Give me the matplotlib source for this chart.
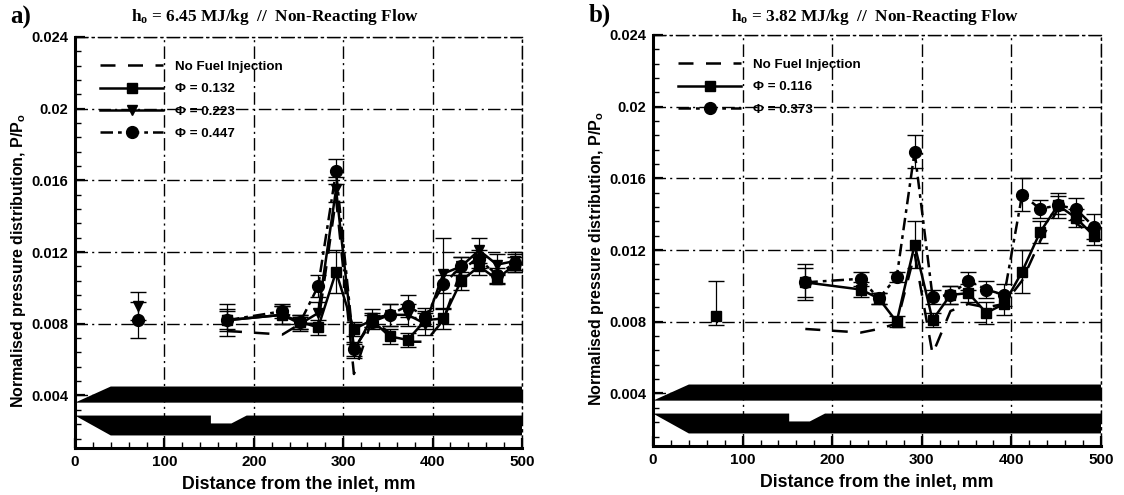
#!/usr/bin/env python3
"""Normalised pressure distribution along the duct, two enthalpy conditions"""

import matplotlib
matplotlib.use("Agg")
import matplotlib.pyplot as plt
from matplotlib.lines import Line2D
from matplotlib.ticker import MultipleLocator

plt.rcParams["font.family"] = ["Liberation Sans", "DejaVu Sans"]

# Streamwise stations, mm
x_iso = [70]
x_main = [170, 232, 252, 272, 292, 312, 332, 352, 372, 392, 412, 432, 452, 472, 492]

# Panel a
a_nofuel = [0.0076, 0.0074, 0.0080, 0.0080, 0.0150, 0.0052, 0.0082, 0.0075, 0.0070,
            0.0070, 0.0082, 0.0110, 0.0117, 0.0107, 0.0110]
a_p132 = [0.0082, 0.0085, 0.0081, 0.0078, 0.0109, 0.0077, 0.0082, 0.0073, 0.0071,
          0.0082, 0.0083, 0.0104, 0.0112, 0.0105, 0.0113]
a_p223 = [0.0082, 0.0085, 0.0080, 0.0086, 0.0155, 0.0065, 0.0083, 0.0085, 0.0085,
          0.0080, 0.0108, 0.0112, 0.0121, 0.0113, 0.0115]
a_p447 = [0.0082, 0.0087, 0.0081, 0.0101, 0.0165, 0.0066, 0.0081, 0.0085, 0.0090,
          0.0084, 0.0102, 0.0112, 0.0116, 0.0107, 0.0114]
a_err132 = [0.0009, 0.0005, 0.0004, 0.0004, 0.0012, 0.0004, 0.0004, 0.0004, 0.0004,
            0.0005, 0.0006, 0.0005, 0.0005, 0.0003, 0.0004]
a_err223 = [0.0006, 0.0005, 0.0004, 0.0006, 0.0007, 0.0004, 0.0005, 0.0006, 0.0006,
            0.0006, 0.0020, 0.0005, 0.0007, 0.0006, 0.0005]
a_err447 = [0.0005, 0.0004, 0.0004, 0.0006, 0.0007, 0.0004, 0.0004, 0.0006, 0.0006,
            0.0005, 0.0005, 0.0005, 0.0005, 0.0004, 0.0005]
a_iso223, a_iso447 = [0.0090], [0.0082]
a_isoerr223, a_isoerr447 = [0.0008], [0.0010]

# Panel b
b_nofuel = [0.0076, 0.0074, 0.0076, 0.0079, 0.0118, 0.0062, 0.0086, 0.0090, 0.0088,
            0.0090, 0.0103, 0.0125, 0.0143, 0.0135, 0.0128]
b_p116 = [0.0102, 0.0098, 0.0093, 0.0080, 0.0123, 0.0081, 0.0095, 0.0096, 0.0085,
          0.0090, 0.0108, 0.0130, 0.0145, 0.0138, 0.0128]
b_p373 = [0.0102, 0.0104, 0.0093, 0.0105, 0.0175, 0.0094, 0.0095, 0.0103, 0.0098,
          0.0095, 0.0151, 0.0143, 0.0145, 0.0143, 0.0133]
b_err116 = [0.0010, 0.0004, 0.0003, 0.0003, 0.0013, 0.0004, 0.0005, 0.0005, 0.0006,
            0.0006, 0.0012, 0.0006, 0.0005, 0.0005, 0.0005]
b_err373 = [0.0008, 0.0004, 0.0003, 0.0003, 0.0009, 0.0004, 0.0005, 0.0005, 0.0005,
            0.0006, 0.0009, 0.0005, 0.0007, 0.0006, 0.0007]
b_iso116 = [0.0083]
b_isoerr116 = [0.0005]
b_isoup373 = [0.0020]

# Duct walls drawn at the bottom of both panels
wall_up_x = [0, 40, 500, 500, 0]
wall_up_y = [0.0036, 0.0045, 0.0045, 0.0036, 0.0036]
wall_lo_x = [0, 152, 152, 175, 192, 500, 500, 40, 0]
wall_lo_y = [0.00288, 0.00288, 0.00244, 0.00244, 0.00288, 0.00288, 0.00177, 0.00177, 0.00288]

fig = plt.figure(figsize=(11.24, 4.95), dpi=100)
W, H = 1124.0, 495.0


def make_axes(x0, x1, top, bottom):
    ax = fig.add_axes([x0 / W, 1 - bottom / H, (x1 - x0) / W, (bottom - top) / H])
    ax.set_xlim(0, 500)
    ax.set_ylim(0.00107, 0.024)
    ax.xaxis.set_major_locator(MultipleLocator(100))
    ax.xaxis.set_minor_locator(MultipleLocator(20))
    ax.yaxis.set_major_locator(MultipleLocator(0.004))
    ax.yaxis.set_minor_locator(MultipleLocator(0.0008))
    ax.set_yticks([0.004, 0.008, 0.012, 0.016, 0.02, 0.024])
    ax.set_yticklabels(["0.004", "0.008", "0.012", "0.016", "0.02", "0.024"],
                       fontsize=10.5, fontweight="bold")
    ax.set_xticks([0, 100, 200, 300, 400, 500])
    ax.set_xticklabels(["0", "100", "200", "300", "400", "500"],
                       fontsize=11, fontweight="bold")
    ax.tick_params(which="major", direction="in", length=7, width=1.6)
    ax.tick_params(which="minor", direction="in", length=4, width=1)
    ax.tick_params(axis="x", pad=5)
    ax.tick_params(axis="y", pad=5)
    ax.grid(True, which="major", color="black", lw=1, linestyle=(0, (9, 3, 1.5, 3)))
    ax.set_axisbelow(True)
    for side in ("left", "bottom"):
        ax.spines[side].set_linewidth(2.2)
    for side in ("top", "right"):
        ax.spines[side].set_linewidth(1)
        ax.spines[side].set_linestyle((0, (9, 3, 1.5, 3)))
    ax.fill(wall_up_x, wall_up_y, color="black", lw=0, zorder=1.5)
    ax.fill(wall_lo_x, wall_lo_y, color="black", lw=0, zorder=1.5)
    ax.set_xlabel("Distance from the inlet, mm", fontsize=12.8, fontweight="bold", labelpad=5)
    ax.set_ylabel(r"Normalised pressure distribution, P/P$\mathregular{_o}$",
                  fontsize=11.5, fontweight="bold", labelpad=2, y=0.455)
    return ax


def series(ax, x, y, err, style, marker, ms):
    ax.errorbar(x, y, yerr=err, color="black", lw=1.8, linestyle=style, marker=marker,
                ms=ms, elinewidth=0.9, capsize=6, capthick=1, zorder=3)


def key(style, marker, ms, label):
    return Line2D([], [], color="black", lw=1.8, linestyle=style, marker=marker, ms=ms, label=label)


DASH = (0, (6, 5))
DASHDOT = (0, (5, 2, 1.5, 2))

# Panel a
ax1 = make_axes(75, 522, 37, 448)
ax1.plot(x_main, a_nofuel, color="black", lw=1.8, linestyle=DASH, zorder=2)
series(ax1, x_main, a_p132, a_err132, "-", "s", 7)
series(ax1, x_main, a_p223, a_err223, "-", "v", 7.5)
series(ax1, x_main, a_p447, a_err447, DASHDOT, "o", 8.5)
series(ax1, x_iso, a_iso223, a_isoerr223, "none", "v", 7.5)
series(ax1, x_iso, a_iso447, a_isoerr447, "none", "o", 8.5)

# Panel b
ax2 = make_axes(653, 1101, 35, 446)
ax2.plot(x_main, b_nofuel, color="black", lw=1.8, linestyle=DASH, zorder=2)
series(ax2, x_main, b_p116, b_err116, "-", "s", 7)
series(ax2, x_main, b_p373, b_err373, DASHDOT, "o", 8.5)
ax2.errorbar(x_iso, b_iso116, yerr=[b_isoerr116, b_isoup373], color="black", marker="s", ms=7,
             linestyle="none", elinewidth=0.9, capsize=6, capthick=1, zorder=3)

keys_a = [key(DASH, None, 0, "No Fuel Injection"), key("-", "s", 7, "Φ = 0.132"),
          key("-", "v", 7.5, "Φ = 0.223"), key(DASHDOT, "o", 8.5, "Φ = 0.447")]
keys_b = [key(DASH, None, 0, "No Fuel Injection"), key("-", "s", 7, "Φ = 0.116"),
          key(DASHDOT, "o", 8.5, "Φ = 0.373")]
for ax, handles in ((ax1, keys_a), (ax2, keys_b)):
    ax.legend(handles=handles, loc="upper left", bbox_to_anchor=(0.03, 0.972), frameon=False,
              handlelength=4.7, handletextpad=0.9, labelspacing=0.75,
              prop={"size": 9.6, "weight": "bold"})

# Titles and panel letters
fig.text(275 / W, 1 - 17 / H, r"h$\mathregular{_o}$ = 6.45 MJ/kg  //  Non-Reacting Flow",
         family="Liberation Serif", fontweight="bold", fontsize=12.4, ha="center", va="center")
fig.text(875 / W, 1 - 17 / H, r"h$\mathregular{_o}$ = 3.82 MJ/kg  //  Non-Reacting Flow",
         family="Liberation Serif", fontweight="bold", fontsize=12.4, ha="center", va="center")
fig.text(10 / W, 1 - 17 / H, "a)", family="Liberation Serif", fontweight="bold", fontsize=18, va="center")
fig.text(589 / W, 1 - 15 / H, "b)", family="Liberation Serif", fontweight="bold", fontsize=18, va="center")

plt.savefig("out.png", dpi=100)
